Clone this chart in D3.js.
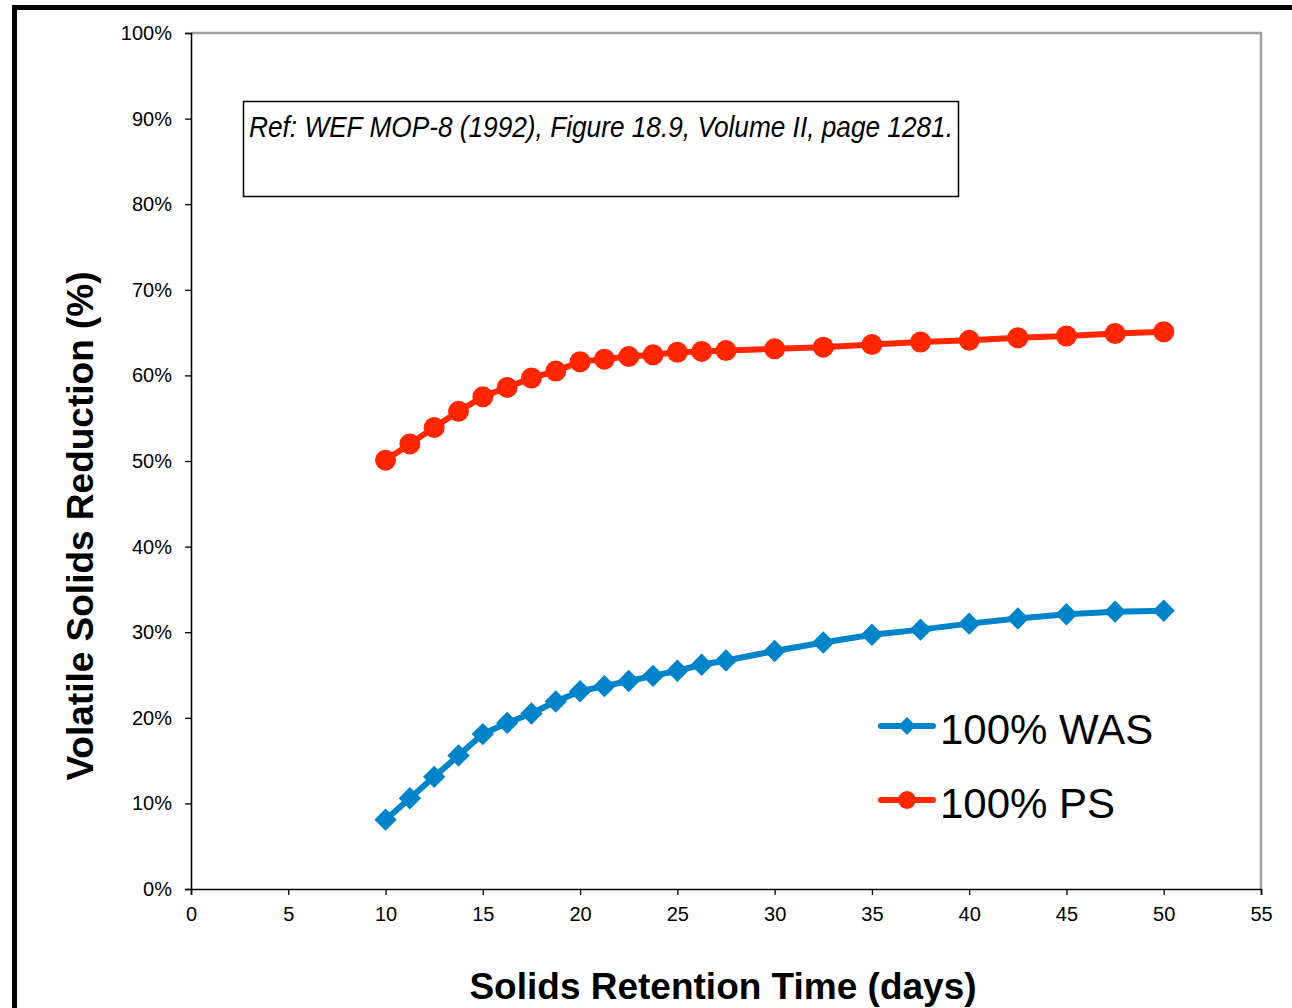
<!DOCTYPE html>
<html>
<head>
<meta charset="utf-8">
<script src="https://cdn.jsdelivr.net/npm/d3@7"></script>
<style>
  body { margin: 0; background: #fff; }
  svg { display: block; font-family: "Liberation Sans", Arial, sans-serif; }
</style>
</head>
<body>
<svg id="chart" width="1292" height="1008"></svg>
<script>
// solids retention time (days)
var srt = [10, 11.25, 12.5, 13.75, 15, 16.25, 17.5, 18.75, 20, 21.25, 22.5, 23.75, 25, 26.25, 27.5,
           30, 32.5, 35, 37.5, 40, 42.5, 45, 47.5, 50];
// volatile solids reduction, %
var was = [8.1, 10.6, 13.1, 15.6, 18.1, 19.4, 20.5, 21.9, 23.1, 23.7, 24.3, 24.9, 25.5, 26.2, 26.7,
           27.8, 28.8, 29.7, 30.3, 31.0, 31.6, 32.1, 32.4, 32.5];
var ps  = [50.1, 52.0, 53.9, 55.8, 57.5, 58.6, 59.7, 60.5, 61.6, 61.9, 62.2, 62.4, 62.7, 62.8, 62.9,
           63.1, 63.3, 63.6, 63.9, 64.1, 64.4, 64.6, 64.9, 65.1];
var xTicks = [0, 5, 10, 15, 20, 25, 30, 35, 40, 45, 50, 55];
var yTicks = [0, 10, 20, 30, 40, 50, 60, 70, 80, 90, 100];
var seriesNames = ["100% WAS", "100% PS"];
var colors = ["#0084c9", "#ff2600"];

var svg = d3.select("#chart");

// outer frame
svg.append("rect")
  .attr("x", 14.5).attr("y", 7.5)
  .attr("width", 1400).attr("height", 1100)
  .attr("fill", "none").attr("stroke", "#000").attr("stroke-width", 5);

var plotL = 191, plotT = 33, plotR = 1261, plotB = 889;
var x = d3.scaleLinear().domain([0, 55]).range([plotL, plotR]);
var y = d3.scaleLinear().domain([0, 100]).range([plotB, plotT]);

// gray top/right edge of plot area
svg.append("path")
  .attr("d", "M" + plotL + "," + plotT + "H" + plotR + "V" + plotB)
  .attr("fill", "none").attr("stroke", "#a0a0a0").attr("stroke-width", 2.5);

var yAxis = svg.append("g")
  .attr("transform", "translate(" + plotL + ",0)")
  .call(d3.axisLeft(y).tickValues(yTicks).tickSize(6).tickPadding(13)
    .tickFormat(function(d){ return d + "%"; }));

var xAxis = svg.append("g")
  .attr("transform", "translate(0," + plotB + ")")
  .call(d3.axisBottom(x).tickValues(xTicks).tickSize(6).tickPadding(12));

[yAxis, xAxis].forEach(function(a){
  a.attr("font-size", 20).attr("font-family", "Liberation Sans, Arial, sans-serif");
  a.select(".domain").attr("stroke", "#000").attr("stroke-width", 1.6);
  a.selectAll(".tick line").attr("stroke", "#000").attr("stroke-width", 1.3);
  a.selectAll("text").attr("fill", "#000");
});

// axis titles
svg.append("text")
  .attr("transform", "translate(93,526) rotate(-90)")
  .attr("text-anchor", "middle")
  .attr("font-size", "37px").attr("font-weight", "bold")
  .text("Volatile Solids Reduction (%)");

svg.append("text")
  .attr("x", 723).attr("y", 999)
  .attr("text-anchor", "middle")
  .attr("font-size", "37px").attr("font-weight", "bold")
  .text("Solids Retention Time (days)");

// reference note
svg.append("rect")
  .attr("x", 243.5).attr("y", 101.5).attr("width", 715).attr("height", 95)
  .attr("fill", "#fff").attr("stroke", "#000").attr("stroke-width", 1.5);

svg.append("text")
  .attr("x", 249).attr("y", 137)
  .attr("font-size", "29px").attr("font-style", "italic")
  .attr("textLength", 704).attr("lengthAdjust", "spacingAndGlyphs")
  .text("Ref: WEF MOP-8 (1992), Figure 18.9, Volume II, page 1281.");

// series
var line = d3.line()
  .x(function(d){ return x(d[0]); })
  .y(function(d){ return y(d[1]); });

var wasData = srt.map(function(d, i){ return [d, was[i]]; });
var psData = srt.map(function(d, i){ return [d, ps[i]]; });

svg.append("path").datum(wasData).attr("d", line)
  .attr("fill", "none").attr("stroke", colors[0]).attr("stroke-width", 6)
  .attr("stroke-linejoin", "round");
svg.append("g").selectAll("path")
  .data(wasData).enter().append("path")
  .attr("d", d3.symbol().type(d3.symbolSquare).size(250))
  .attr("transform", function(d){ return "translate(" + x(d[0]) + "," + y(d[1]) + ") rotate(45)"; })
  .attr("fill", colors[0]);

svg.append("path").datum(psData).attr("d", line)
  .attr("fill", "none").attr("stroke", colors[1]).attr("stroke-width", 6)
  .attr("stroke-linejoin", "round");
svg.append("g").selectAll("circle")
  .data(psData).enter().append("circle")
  .attr("cx", function(d){ return x(d[0]); })
  .attr("cy", function(d){ return y(d[1]); })
  .attr("r", 10.5)
  .attr("fill", colors[1]);

// legend
var legend = svg.append("g").selectAll("g")
  .data(seriesNames).enter().append("g")
  .attr("transform", function(d, i){ return "translate(878," + (726 + i * 74) + ")"; });

legend.append("line")
  .attr("x1", 3).attr("x2", 55)
  .attr("stroke", function(d, i){ return colors[i]; })
  .attr("stroke-width", 6).attr("stroke-linecap", "round");

legend.append("path")
  .attr("d", function(d, i){
    return i == 0 ? d3.symbol().type(d3.symbolSquare).size(160)()
                  : d3.symbol().type(d3.symbolCircle).size(250)();
  })
  .attr("transform", function(d, i){ return "translate(29,0)" + (i == 0 ? " rotate(45)" : ""); })
  .attr("fill", function(d, i){ return colors[i]; });

legend.append("text")
  .attr("x", 62).attr("y", 18)
  .attr("font-size", "42px")
  .text(function(d){ return d; });
</script>
</body>
</html>
